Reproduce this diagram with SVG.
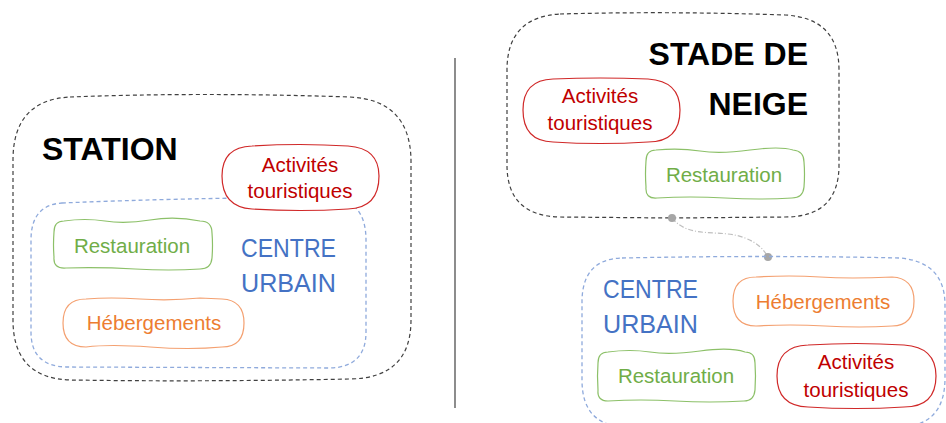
<svg xmlns="http://www.w3.org/2000/svg" width="946" height="423" viewBox="0 0 946 423">
<defs>
<style>
.zone{fill:none;stroke:#404040;stroke-width:1.2;stroke-dasharray:4 3}
.urb{fill:none;stroke:#8FAADC;stroke-width:1.3;stroke-dasharray:4 3}
.red{fill:#fff;stroke:#D02828;stroke-width:1.2}
.grn{fill:#fff;stroke:#8CC068;stroke-width:1.2}
.org{fill:#fff;stroke:#F4A070;stroke-width:1.2}
text{font-family:"Liberation Sans",Arial,sans-serif;text-anchor:middle}
.t{font-size:20.5px}
.tr{fill:#C00000}
.tg{fill:#70AD47}
.to{fill:#ED7D31}
.tb{fill:#4472C4;font-size:26px;text-anchor:start}
.title{font-weight:bold;font-size:32px;fill:#000}
.dot{fill:#A6A6A6}
</style>
</defs>
<rect width="946" height="423" fill="#fff"/>
<line x1="455" y1="58" x2="455" y2="408" stroke="#404040" stroke-width="1.2"/>

<!-- LEFT: STATION -->
<g id="station">
<path class="zone" d="M70,97 Q200,92 350,97 Q410,100 411,160 L411,320 Q411,378 350,379 Q200,382 70,380 Q13,378 13,320 L13,160 Q13,100 70,97 Z"/>
<text class="title" x="42" y="160" style="text-anchor:start">STATION</text>
</g>
<g id="centre-urbain-left">
<path class="urb" d="M62,203 Q180,198 330,197 Q366,200 366,240 L366,332 Q366,367 330,368 L66,367 Q31,366 31,332 L31,240 Q31,205 62,203 Z"/>
<text class="tb" x="241" y="257" textLength="95" lengthAdjust="spacingAndGlyphs">CENTRE</text>
<text class="tb" x="241" y="292" textLength="95" lengthAdjust="spacingAndGlyphs">URBAIN</text>
</g>
<g id="activites-left">
<path class="red" d="M252,146 Q300,143 348,146 Q379,148 379,176 Q379,208 348,209 Q300,212 252,209 Q222,207 222,176 Q222,147 252,146 Z"/>
<text class="t tr" x="300" y="172">Activités</text>
<text class="t tr" x="300" y="198">touristiques</text>
</g>
<g id="restauration-left">
<path class="grn" d="M64,221 Q85,218 105,221 T150,220 T200,221 Q212,221 212,233 Q213,245 212,258 Q211,269 200,269 Q170,271 135,269 T66,268 Q53,269 54,257 Q53,245 54,232 Q54,221 64,221 Z"/>
<text class="t tg" x="132" y="253">Restauration</text>
</g>
<g id="hebergements-left">
<path class="org" d="M86,299 Q110,297 140,299 T200,298 L222,299 Q244,300 244,323 Q244,347 222,347 Q190,350 150,347 T86,347 Q63,347 63,323 Q63,299 86,299 Z"/>
<text class="t to" x="154" y="330">Hébergements</text>
</g>

<!-- RIGHT: STADE DE NEIGE -->
<g id="stade-de-neige">
<path class="zone" d="M560,14 Q670,11 785,15 Q839,18 839,70 L839,165 Q839,217 785,217 L672,218 L560,217 Q507,216 507,165 L507,70 Q507,17 560,14 Z"/>
<text class="title" x="808" y="65" style="text-anchor:end">STADE DE</text>
<text class="title" x="808" y="115" style="text-anchor:end">NEIGE</text>
</g>
<g id="activites-top">
<path class="red" d="M553,79 Q600,77 648,79 Q680,81 680,110 Q680,142 648,142 Q600,145 553,142 Q523,141 523,110 Q523,80 553,79 Z"/>
<text class="t tr" x="600" y="103">Activités</text>
<text class="t tr" x="600" y="130">touristiques</text>
</g>
<g id="restauration-top">
<path class="grn" d="M656,150 Q680,148 700,151 T750,150 T793,150 Q804,151 804,162 Q805,174 804,187 Q803,198 792,198 Q760,200 725,198 T657,198 Q645,199 646,187 Q645,174 646,161 Q646,150 656,150 Z"/>
<text class="t tg" x="724" y="182">Restauration</text>
</g>

<!-- connector -->
<g id="connectors">
<path d="M672,218 C690,240 720,228 745,238 C758,243 764,250 768,257" fill="none" stroke="#BFBFBF" stroke-width="1.2" stroke-dasharray="5 2 1 2"/>
<circle class="dot" cx="672" cy="218" r="4"/>
<circle class="dot" cx="768" cy="257" r="4"/>
</g>

<!-- RIGHT: CENTRE URBAIN -->
<g id="centre-urbain-right">
<path class="urb" d="M622,258 Q768,255 900,258 Q945,262 945,305 L945,378 Q945,427 898,427 L628,427 Q582,427 582,380 L582,300 Q583,259 622,258 Z"/>
<text class="tb" x="603" y="298" textLength="95" lengthAdjust="spacingAndGlyphs">CENTRE</text>
<text class="tb" x="603" y="333" textLength="95" lengthAdjust="spacingAndGlyphs">URBAIN</text>
</g>
<g id="hebergements-right">
<path class="org" d="M756,277 Q790,275 820,277 T892,277 Q914,278 914,301 Q914,326 892,326 Q860,328 825,326 T756,326 Q733,326 733,301 Q733,277 756,277 Z"/>
<text class="t to" x="823" y="309">Hébergements</text>
</g>
<g id="restauration-right">
<path class="grn" d="M608,352 Q630,349 650,352 T700,351 T745,352 Q755,352 755,363 Q756,376 755,390 Q754,401 744,401 Q710,403 675,401 T608,401 Q597,401 598,390 Q597,376 598,363 Q598,352 608,352 Z"/>
<text class="t tg" x="676" y="383">Restauration</text>
</g>
<g id="activites-right">
<path class="red" d="M808,345 Q856,342 904,345 Q936,347 936,376 Q936,407 904,407 Q856,410 808,407 Q777,406 777,376 Q777,346 808,345 Z"/>
<text class="t tr" x="856" y="369">Activités</text>
<text class="t tr" x="856" y="397">touristiques</text>
</g>
</svg>
